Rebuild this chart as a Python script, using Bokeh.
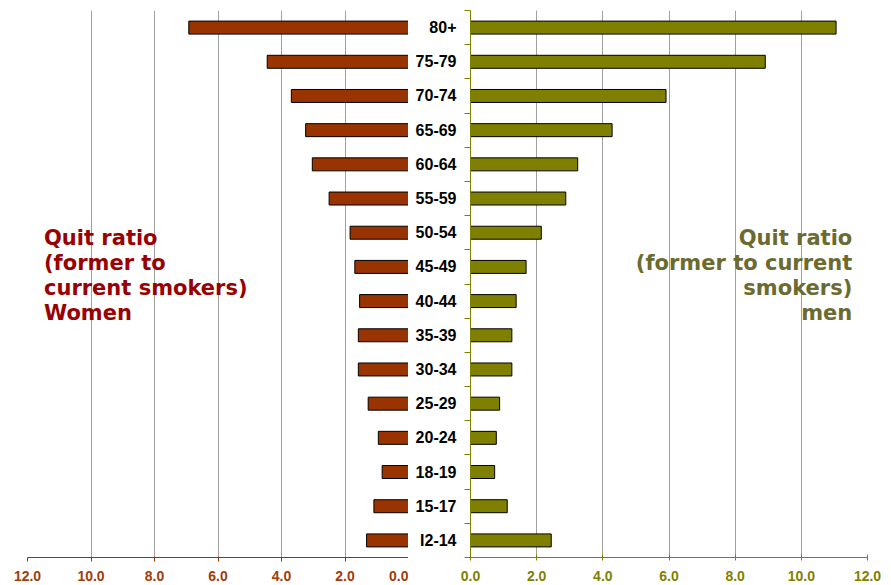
from bokeh.plotting import figure
from bokeh.layouts import row
from bokeh.models import (Range1d, FixedTicker, NumeralTickFormatter, Label,
                          ColumnDataSource)
from bokeh.embed import file_html
from bokeh.resources import INLINE

# ---- data (top to bottom) ----
ages = ["80+", "75-79", "70-74", "65-69", "60-64", "55-59", "50-54", "45-49",
        "40-44", "35-39", "30-34", "25-29", "20-24", "18-19", "15-17", "I2-14"]
women = [6.92, 4.45, 3.69, 3.24, 3.03, 2.50, 1.84, 1.69, 1.54, 1.58, 1.58,
         1.27, 0.95, 0.83, 1.09, 1.32]
men = [11.05, 8.91, 5.91, 4.28, 3.24, 2.88, 2.14, 1.68, 1.38, 1.25, 1.25,
       0.88, 0.78, 0.73, 1.11, 2.44]
x_ticks = [0, 2, 4, 6, 8, 10, 12]

n = len(ages)
ypos = list(range(n - 1, -1, -1))
src = ColumnDataSource(dict(y=ypos, age=ages, women=women, men=men))

WOMEN_C = "#993300"
MEN_C = "#808000"
GRID_C = "#a0a0a0"
FRAME_H = 547

# ---- left figure (women) ----
p1 = figure(frame_width=381, frame_height=FRAME_H, x_range=Range1d(12, 0),
            y_range=Range1d(-0.5, n - 0.5), y_axis_location=None,
            output_backend="svg", toolbar_location=None,
            min_border_left=27, min_border_right=0, min_border_top=10,
            min_border_bottom=28)
p1.hbar(y="y", left=0, right="women", height=0.38, source=src,
        fill_color=WOMEN_C, line_color="black", line_width=1)
p1.outline_line_color = None
p1.ygrid.grid_line_color = None
p1.xgrid.grid_line_color = GRID_C
p1.xaxis.ticker = FixedTicker(ticks=x_ticks)
p1.xgrid.ticker = FixedTicker(ticks=x_ticks)
p1.xaxis.formatter = NumeralTickFormatter(format="0.0")
p1.xaxis.axis_line_color = WOMEN_C
p1.xaxis.major_tick_line_color = WOMEN_C
p1.xaxis.major_tick_in = 0
p1.xaxis.major_tick_out = 4
p1.xaxis.minor_tick_line_color = None
p1.xaxis.major_label_standoff = 9
p1.xaxis.major_label_text_color = "#a03c0a"
p1.xaxis.major_label_text_font = "Liberation Sans"
p1.xaxis.major_label_text_font_style = "bold"
p1.xaxis.major_label_text_font_size = "14px"
p1.add_layout(Label(x=11.48, y=9.2, text="Quit ratio\n(former to\ncurrent smokers)\nWomen",
                    text_align="left", text_baseline="top", text_font="DejaVu Sans",
                    text_font_style="bold", text_font_size="21px",
                    text_color="#990000", text_line_height=1.05))

# ---- right figure (men) ----
p2 = figure(frame_width=397, frame_height=FRAME_H, x_range=Range1d(0, 12),
            y_range=Range1d(-0.5, n - 0.5),
            output_backend="svg", toolbar_location=None,
            min_border_left=62, min_border_right=22, min_border_top=10,
            min_border_bottom=28)
p2.hbar(y="y", left=0, right="men", height=0.38, source=src,
        fill_color=MEN_C, line_color="black", line_width=1)
p2.outline_line_color = None
p2.ygrid.grid_line_color = None
p2.xgrid.grid_line_color = GRID_C
p2.xaxis.ticker = FixedTicker(ticks=x_ticks)
p2.xgrid.ticker = FixedTicker(ticks=x_ticks)
p2.xaxis.formatter = NumeralTickFormatter(format="0.0")
p2.xaxis.axis_line_color = MEN_C
p2.xaxis.major_tick_line_color = MEN_C
p2.xaxis.major_tick_in = 3
p2.xaxis.major_tick_out = 3
p2.xaxis.minor_tick_line_color = None
p2.xaxis.major_label_standoff = 10
p2.xaxis.major_label_text_color = MEN_C
p2.xaxis.major_label_text_font = "Liberation Sans"
p2.xaxis.major_label_text_font_style = "bold"
p2.xaxis.major_label_text_font_size = "14px"

yax = p2.yaxis[0]
yax.ticker = FixedTicker(ticks=ypos, minor_ticks=[v - 0.5 for v in range(n + 1)])
yax.major_label_overrides = {y: a for y, a in zip(ypos, ages)}
yax.axis_line_color = MEN_C
yax.major_tick_in = 0
yax.major_tick_out = 0
yax.major_tick_line_color = None
yax.minor_tick_in = 0
yax.minor_tick_out = 6
yax.minor_tick_line_color = MEN_C
yax.major_label_standoff = 8
yax.major_label_text_color = "black"
yax.major_label_text_font = "Liberation Sans"
yax.major_label_text_font_style = "bold"
yax.major_label_text_font_size = "16px"
p2.add_layout(Label(x=11.54, y=9.2, text="Quit ratio\n(former to current\nsmokers)\nmen",
                    text_align="right", text_baseline="top", text_font="DejaVu Sans",
                    text_font_style="bold", text_font_size="21px",
                    text_color="#6b6b30", text_line_height=1.05))

layout = row(p1, p2)
open("out.html", "w").write(file_html(layout, INLINE))
